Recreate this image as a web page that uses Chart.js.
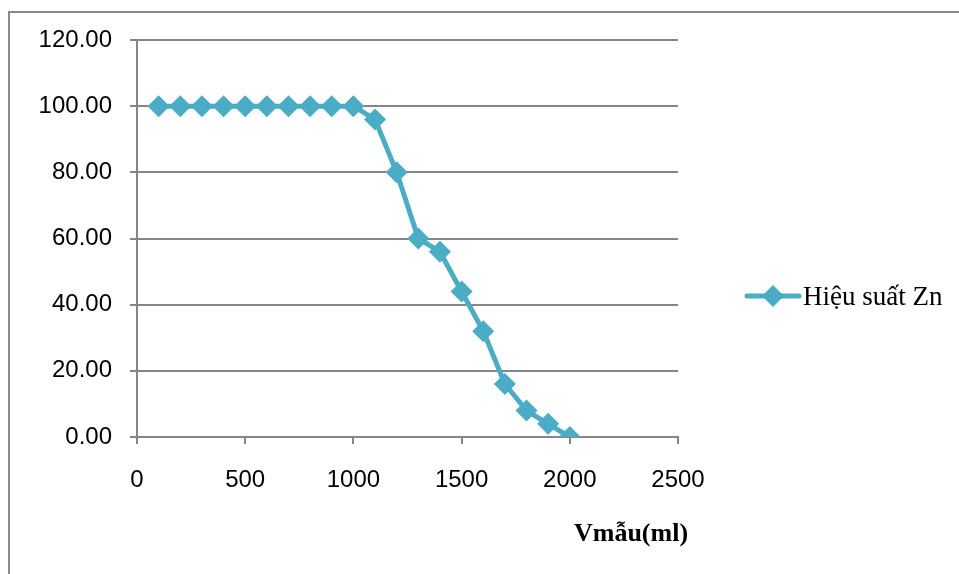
<!DOCTYPE html>
<html>
<head>
<meta charset="utf-8">
<script src="https://cdn.jsdelivr.net/npm/chart.js@4/dist/chart.umd.min.js"></script>
<style>
    html, body { margin: 0; padding: 0; background: #fff; }
    #khung { position: absolute; left: 8px; top: 11px; width: 980px; height: 600px;
             border-left: 2px solid #8a8a8a; border-top: 2px solid #8a8a8a; }
    #wrap { position: absolute; left: 0; top: 0; width: 959px; height: 574px; }
</style>
</head>
<body>
<div id="khung"></div>
<div id="wrap"><canvas id="chart-zn"></canvas></div>
<script>
// du lieu doc tu hinh
var theTich = [100, 200, 300, 400, 500, 600, 700, 800, 900, 1000, 1100, 1200, 1300, 1400, 1500, 1600, 1700, 1800, 1900, 2000];
var hieuSuat = [100, 100, 100, 100, 100, 100, 100, 100, 100, 100, 96, 80, 60, 56, 44, 32, 16, 8, 4, 0];
var tenSeries = 'Hiệu suất Zn';
var tieuDeX = 'Vmẫu(ml)';

var mau = '#4BACC6';
var mauLuoi = '#868686';

var diem = theTich.map(function (v, i) {
    return {x: v, y: hieuSuat[i]};
});

// ve chu thich va tieu de truc x
var ghiChu = {
    id: 'ghiChu',
    afterDraw: function (chart) {
        let ctx = chart.ctx;
        let ds = chart.data.datasets[0];
        ctx.save();
        // chu thich
        ctx.strokeStyle = ds.borderColor;
        ctx.lineWidth = ds.borderWidth;
        ctx.lineCap = 'round';
        ctx.beginPath();
        ctx.moveTo(747, 296);
        ctx.lineTo(799, 296);
        ctx.stroke();
        ctx.fillStyle = ds.pointBackgroundColor;
        Chart.helpers.drawPoint(ctx, {pointStyle: 'rectRot', radius: ds.pointRadius, borderWidth: 0}, 773, 296);
        ctx.fillStyle = '#000';
        ctx.font = '27px "Liberation Serif", "Times New Roman", serif';
        ctx.textAlign = 'left';
        ctx.textBaseline = 'middle';
        ctx.fillText(tenSeries, 803, 298);
        // tieu de truc x
        ctx.font = 'bold 26px "Liberation Serif", "Times New Roman", serif';
        ctx.textAlign = 'center';
        ctx.fillText(tieuDeX, 631, 534);
        ctx.restore();
    }
};

var ctx = document.getElementById('chart-zn').getContext('2d');
var chartZn = new Chart(ctx, {
    type: 'line',
    data: {
        datasets: [{
            label: tenSeries,
            data: diem,
            borderColor: mau,
            backgroundColor: mau,
            pointBackgroundColor: mau,
            pointBorderColor: mau,
            borderWidth: 5,
            pointStyle: 'rectRot',
            pointRadius: 11,
            pointBorderWidth: 0,
            tension: 0
        }]
    },
    options: {
        responsive: true,
        maintainAspectRatio: false,
        animation: false,
        events: [],
        layout: {
            padding: {left: 0, top: 40, right: 281, bottom: 0}
        },
        plugins: {
            legend: {display: false},
            tooltip: {enabled: false}
        },
        scales: {
            x: {
                type: 'linear',
                min: 0,
                max: 2500,
                afterFit: function (scale) {
                    scale.height = 137;
                },
                ticks: {
                    stepSize: 500,
                    color: '#000',
                    padding: 22,
                    maxRotation: 0,
                    font: {family: '"Liberation Sans", Arial, sans-serif', size: 24},
                    callback: function (value) {
                        return String(value);
                    }
                },
                grid: {
                    drawOnChartArea: false,
                    drawTicks: true,
                    tickLength: 7,
                    color: mauLuoi,
                    lineWidth: 2
                },
                border: {color: mauLuoi, width: 2}
            },
            y: {
                min: 0,
                max: 120,
                afterFit: function (scale) {
                    scale.width = 137;
                },
                ticks: {
                    stepSize: 20,
                    color: '#000',
                    padding: 18,
                    font: {family: '"Liberation Sans", Arial, sans-serif', size: 24},
                    callback: function (value) {
                        return value.toFixed(2);
                    }
                },
                grid: {
                    drawTicks: true,
                    tickLength: 7,
                    color: mauLuoi,
                    lineWidth: 2
                },
                border: {color: mauLuoi, width: 2}
            }
        }
    },
    plugins: [ghiChu]
});
</script>
</body>
</html>
